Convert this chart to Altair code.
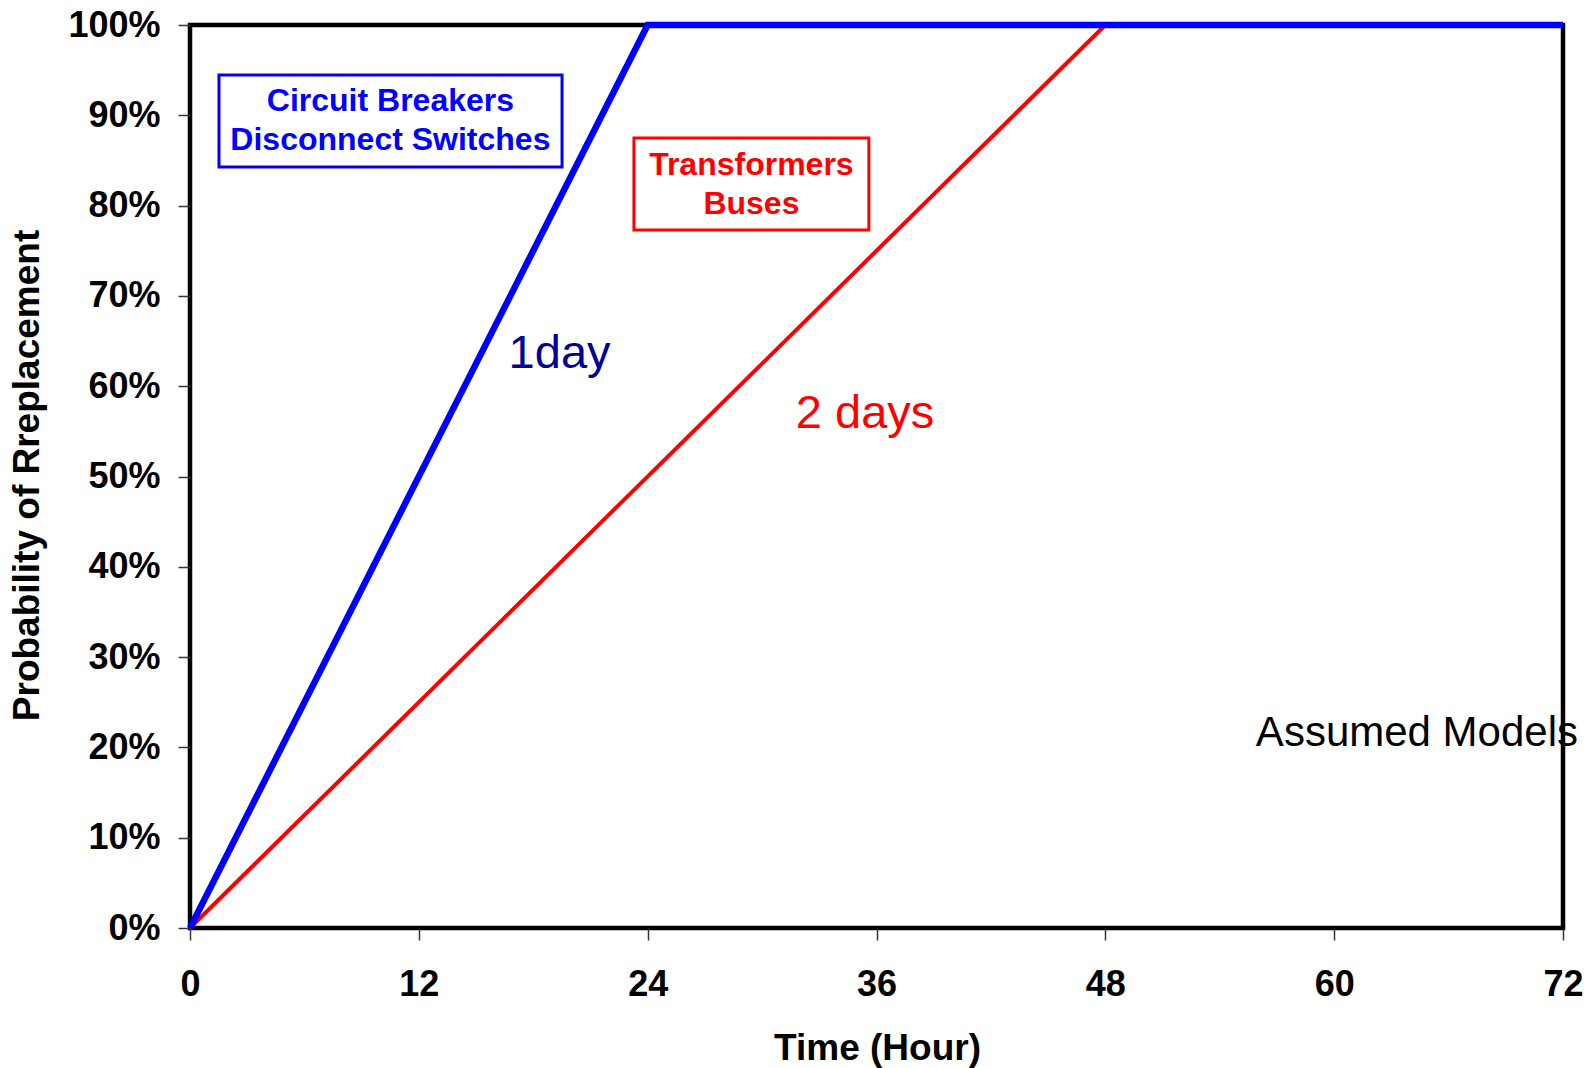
import altair as alt
import pandas as pd

# Data
hours_cb = [0, 24, 72]
prob_cb = [0.0, 1.0, 1.0]
hours_tr = [0, 48, 72]
prob_tr = [0.0, 1.0, 1.0]
x_ticks = [0, 12, 24, 36, 48, 60, 72]
y_ticks = [0.0, 0.1, 0.2, 0.3, 0.4, 0.5, 0.6, 0.7, 0.8, 0.9, 1.0]

# Annotation boxes (data units)
box_x1 = [1.52, 23.28]
box_x2 = [19.51, 35.6]
box_y1 = [0.8427, 0.773]
box_y2 = [0.9446, 0.8749]
box_colors = ["#0000FF", "#FF0000"]

box_text = ["Circuit Breakers", "Disconnect Switches", "Transformers", "Buses"]
box_text_x = [10.51, 10.51, 29.44, 29.44]
box_text_y = [0.9155, 0.8725, 0.8455, 0.8015]
box_text_color = ["#0000FF", "#0000FF", "#FF0000", "#FF0000"]

note_text = ["1day", "2 days"]
note_x = [19.38, 35.4]
note_y = [0.636, 0.569]
note_color = ["#000099", "#FF0000"]

FONT = "Liberation Sans"

df_cb = pd.DataFrame({"t": hours_cb, "p": prob_cb})
df_tr = pd.DataFrame({"t": hours_tr, "p": prob_tr})

xscale = alt.Scale(domain=[0, 72], nice=False, zero=False)
yscale = alt.Scale(domain=[0, 1], nice=False)

xaxis = alt.Axis(values=x_ticks, title="Time (Hour)", grid=False, domain=False,
                 tickSize=12, tickColor="#333333", tickWidth=1.5,
                 labelFont=FONT, labelFontSize=36, labelFontWeight="bold", labelColor="black",
                 labelBaseline="middle", labelPadding=44, labelFlush=False,
                 titleFont=FONT, titleFontSize=37, titleFontWeight="bold", titleColor="black",
                 titleBaseline="middle", titleX=687, titleY=120)
yaxis = alt.Axis(values=y_ticks, format=".0%", title="Probability of Rreplacement", grid=False,
                 domain=False, tickSize=12, tickColor="#333333", tickWidth=1.5,
                 labelFont=FONT, labelFontSize=36, labelFontWeight="bold", labelColor="black",
                 labelPadding=18, labelFlush=False,
                 titleFont=FONT, titleFontSize=37, titleFontWeight="bold", titleColor="black",
                 titleBaseline="middle", titleAngle=-90, titleX=-163, titleY=450)

red_line = alt.Chart(df_tr).mark_line(color="#FF0000", strokeWidth=4).encode(
    x=alt.X("t:Q", scale=xscale, axis=xaxis),
    y=alt.Y("p:Q", scale=yscale, axis=yaxis),
)
blue_line = alt.Chart(df_cb).mark_line(color="#0000FF", strokeWidth=6.5).encode(
    x=alt.X("t:Q", scale=xscale),
    y=alt.Y("p:Q", scale=yscale),
)

df_box = pd.DataFrame({"x1": box_x1, "x2": box_x2, "y1": box_y1, "y2": box_y2, "c": box_colors})
boxes = alt.Chart(df_box).mark_rect(fill="white", strokeWidth=3).encode(
    x=alt.X("x1:Q", scale=xscale), x2="x2:Q",
    y=alt.Y("y1:Q", scale=yscale), y2="y2:Q",
    stroke=alt.Stroke("c:N", scale=None),
)

df_bt = pd.DataFrame({"txt": box_text, "x": box_text_x, "y": box_text_y, "c": box_text_color})
box_labels = alt.Chart(df_bt).mark_text(font=FONT, fontSize=32, fontWeight="bold",
                                        align="center", baseline="middle").encode(
    x=alt.X("x:Q", scale=xscale), y=alt.Y("y:Q", scale=yscale),
    text="txt:N", color=alt.Color("c:N", scale=None),
)

df_note = pd.DataFrame({"txt": note_text, "x": note_x, "y": note_y, "c": note_color})
notes = alt.Chart(df_note).mark_text(font=FONT, fontSize=47, align="center",
                                     baseline="middle").encode(
    x=alt.X("x:Q", scale=xscale), y=alt.Y("y:Q", scale=yscale),
    text="txt:N", color=alt.Color("c:N", scale=None),
)

df_model = pd.DataFrame({"txt": ["Assumed Models"], "x": [64.34], "y": [0.216]})
model_label = alt.Chart(df_model).mark_text(font=FONT, fontSize=42, align="center",
                                            baseline="middle", color="black").encode(
    x=alt.X("x:Q", scale=xscale), y=alt.Y("y:Q", scale=yscale), text="txt:N",
)

chart = alt.layer(red_line, blue_line, boxes, box_labels, notes, model_label).properties(
    width=1373, height=903,
    autosize=alt.AutoSizeParams(type="none"),
    padding={"left": 190, "top": 25, "right": 28, "bottom": 140},
    background="white",
).configure_view(stroke="black", strokeWidth=4.5)

chart.save("out.html", embed_options={"renderer": "svg", "actions": False})
